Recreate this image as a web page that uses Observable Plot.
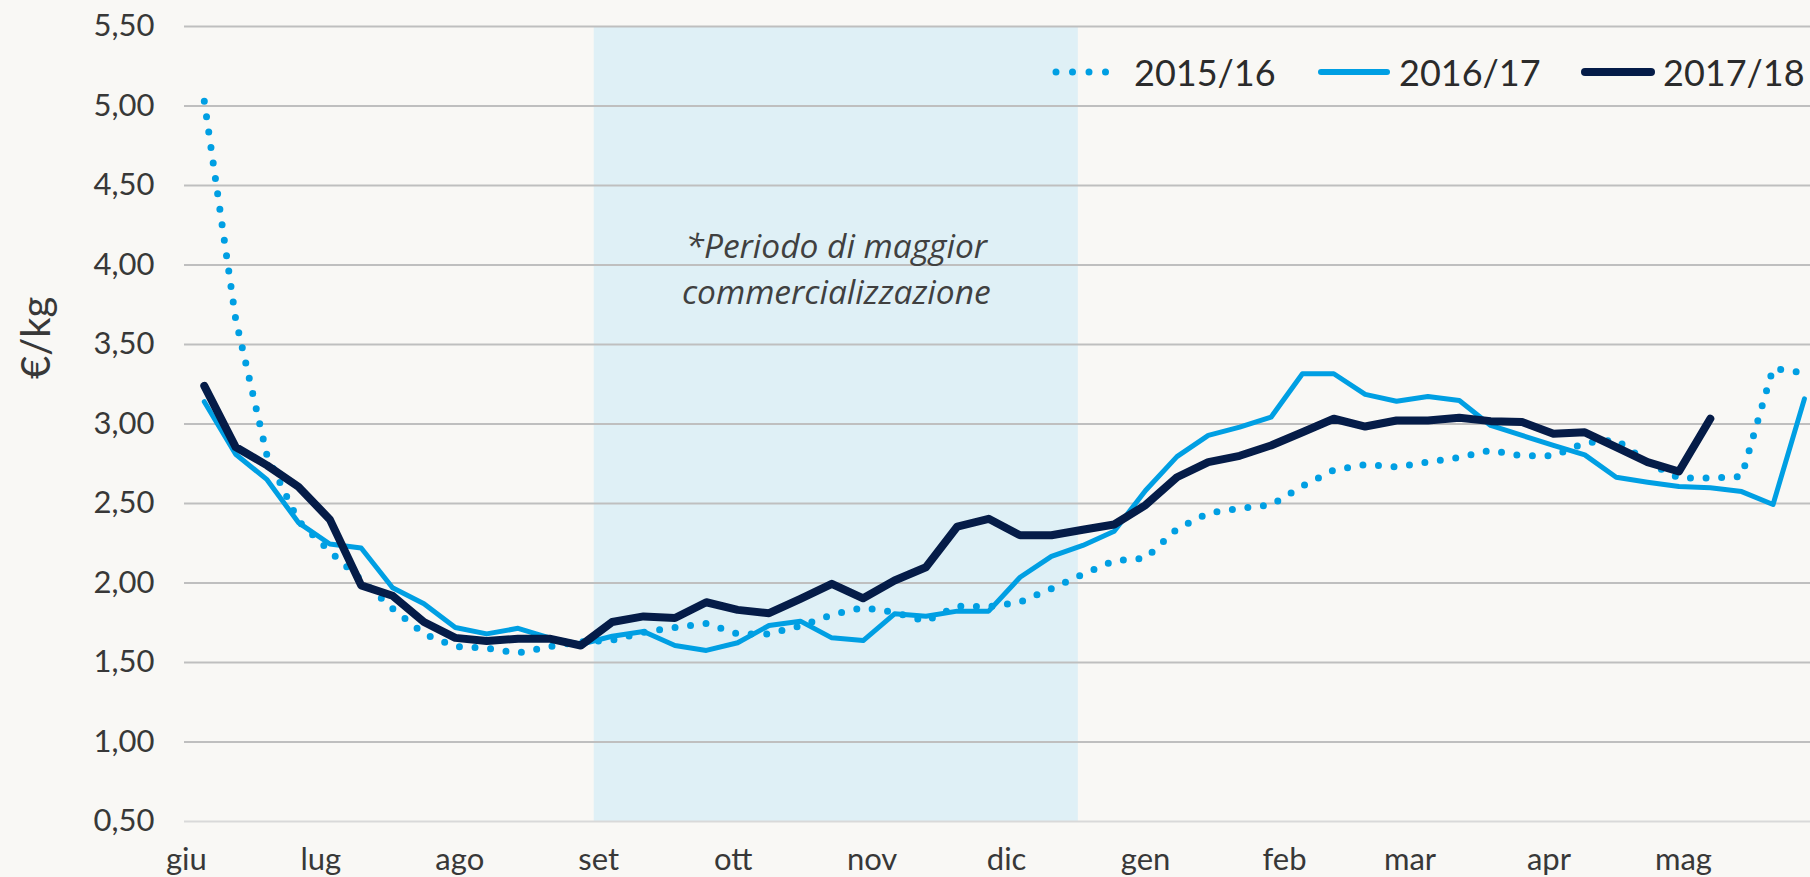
<!DOCTYPE html>
<html>
<head>
<meta charset="utf-8">
<script src="https://cdn.jsdelivr.net/npm/d3@7"></script>
<script src="https://cdn.jsdelivr.net/npm/@observablehq/plot@0.6"></script>
<style>
  html, body { margin: 0; padding: 0; background: #F9F8F5; }
  #wrap { position: relative; width: 1810px; height: 877px; overflow: hidden; background: #F9F8F5; }
  .leg { position: absolute; top: 50px; height: 44px; display: flex; align-items: center;
         font-family: Lato, "DejaVu Sans", sans-serif; font-size: 36px; color: #2b2b2b; white-space: nowrap; }
  .leg svg { margin-right: 8px; }
</style>
</head>
<body>
<div id="wrap"></div>
<script>
// ---- data -------------------------------------------------------------
const weeks = [
  "2017-06-05","2017-06-12","2017-06-19","2017-06-26","2017-07-03","2017-07-10","2017-07-17","2017-07-24","2017-07-31",
  "2017-08-07","2017-08-14","2017-08-21","2017-08-28","2017-09-04","2017-09-11","2017-09-18","2017-09-25",
  "2017-10-02","2017-10-09","2017-10-16","2017-10-23","2017-10-30","2017-11-06","2017-11-13","2017-11-20","2017-11-27",
  "2017-12-04","2017-12-11","2017-12-18","2017-12-25","2018-01-01","2018-01-08","2018-01-15","2018-01-22","2018-01-29",
  "2018-02-05","2018-02-12","2018-02-19","2018-02-26","2018-03-05","2018-03-12","2018-03-19","2018-03-26",
  "2018-04-02","2018-04-09","2018-04-16","2018-04-23","2018-04-30","2018-05-07","2018-05-14","2018-05-21","2018-05-28"
];
const seriesNames = ["2015/16", "2016/17", "2017/18"];
const price2015_16 = [
  5.03, 3.66, 2.80, 2.39, 2.20, 2.02, 1.84, 1.68, 1.60, 1.59, 1.56, 1.60, 1.63,
  1.64, 1.69, 1.72, 1.745, 1.68, 1.68, 1.73, 1.80, 1.845, 1.815, 1.76, 1.855, 1.85,
  1.88, 1.965, 2.055, 2.14, 2.155, 2.34, 2.44, 2.47, 2.49, 2.61, 2.71, 2.745, 2.73,
  2.76, 2.79, 2.835, 2.80, 2.80, 2.88, 2.90, 2.76, 2.66, 2.66, 2.67, 3.35, 3.32
];
const price2016_17 = [
  3.14, 2.81, 2.65, 2.38, 2.245, 2.22, 1.97, 1.87, 1.72, 1.68, 1.715, 1.655, 1.615,
  1.665, 1.695, 1.607, 1.576, 1.624, 1.733, 1.76, 1.655, 1.638, 1.806, 1.791, 1.823, 1.823,
  2.036, 2.167, 2.236, 2.326, 2.582, 2.795, 2.928, 2.98, 3.043, 3.316, 3.316, 3.186, 3.143,
  3.173, 3.148, 2.991, 2.928, 2.865, 2.806, 2.665, 2.634, 2.607, 2.599, 2.575, 2.494, 3.158
];
const price2017_18 = [
  3.24, 2.855, 2.74, 2.605, 2.40, 1.985, 1.92, 1.755, 1.655, 1.635, 1.65, 1.65, 1.607,
  1.755, 1.79, 1.78, 1.879, 1.831, 1.81, 1.90, 1.995, 1.904, 2.016, 2.099, 2.355, 2.404,
  2.30, 2.30, 2.335, 2.368, 2.49, 2.665, 2.76, 2.80, 2.865, 2.948, 3.033, 2.984, 3.022,
  3.022, 3.039, 3.018, 3.012, 2.938, 2.948, 2.854, 2.76, 2.701, 3.033
];
const monthStarts = ["2017-06-01","2017-07-01","2017-08-01","2017-09-01","2017-10-01","2017-11-01",
                     "2017-12-01","2018-01-01","2018-02-01","2018-03-01","2018-04-01","2018-05-01"];
const monthLabels = ["giu","lug","ago","set","ott","nov","dic","gen","feb","mar","apr","mag"];
const yTicks = [0.5, 1, 1.5, 2, 2.5, 3, 3.5, 4, 4.5, 5, 5.5];
const xDomain = ["2017-05-31T14:00Z", "2018-05-29T08:30Z"];
const periodDates = ["2017-08-31T00:00Z", "2017-12-17T00:00Z"];
const annotationLines = ["*Periodo di maggior", "commercializzazione"];
const annotationY = 3.99;
const yLabel = "€/kg";
const colors = ["#009FE3", "#009FE3", "#051C48"];

// ---- build ------------------------------------------------------------
const parse = s => new Date(s.length === 10 ? s + "T00:00Z" : s);
const table = weeks.map((w, i) => ({
  date: parse(w),
  v15: price2015_16[i],
  v16: price2016_17[i],
  v17: price2017_18[i]
}));
const monthDates = monthStarts.map(parse);
const p0 = parse(periodDates[0]), p1 = parse(periodDates[1]);
const pMid = new Date((+p0 + +p1) / 2);

const chart = Plot.plot({
  width: 1810,
  height: 877,
  marginLeft: 184,
  marginRight: 0,
  marginTop: 26,
  marginBottom: 56,
  style: { background: "transparent", fontFamily: "Lato, 'DejaVu Sans', sans-serif", fontSize: "31px", color: "#333" },
  x: { type: "utc", domain: xDomain.map(parse) },
  y: { domain: [yTicks[0], yTicks[yTicks.length - 1]] },
  marks: [
    Plot.rect([0], { x1: () => p0, x2: () => p1, y1: () => yTicks[0], y2: () => yTicks[yTicks.length - 1], fill: "#DFF0F6" }),
    Plot.ruleY(yTicks.slice(1), { stroke: "#BFBFBF", strokeWidth: 1.8 }),
    Plot.ruleY(yTicks.slice(0, 1), { stroke: "#D9D9D9", strokeWidth: 1.8 }),
    Plot.axisY(yTicks, { anchor: "left", tickSize: 0, tickPadding: 30, label: null,
      tickFormat: d => d.toFixed(2).replace(".", ","), fontSize: 31, fill: "#383838" }),
    Plot.axisX(monthDates, { anchor: "bottom", tickSize: 0, tickPadding: 26, label: null,
      tickFormat: d => monthLabels[monthDates.findIndex(m => +m === +d)], fontSize: 31, fill: "#383838" }),
    Plot.text([yLabel], { frameAnchor: "left", rotate: -90, dx: -147, dy: -45, fontSize: 40, fill: "#383838" }),
    Plot.text([annotationLines.join("\n")], { x: () => pMid, y: () => annotationY, fontFamily: "'Open Sans', sans-serif",
      fontStyle: "italic", fontSize: 33.5, lineHeight: 1.35, fill: "#404040" }),
    Plot.line(table, { x: "date", y: "v15", stroke: colors[0], strokeWidth: 7, strokeDasharray: "0,15.6",
      strokeLinecap: "round", strokeLinejoin: "round" }),
    Plot.line(table, { x: "date", y: "v16", stroke: colors[1], strokeWidth: 5, strokeLinejoin: "round" }),
    Plot.line(table, { x: "date", y: "v17", stroke: colors[2], strokeWidth: 8, strokeLinecap: "round", strokeLinejoin: "round" })
  ]
});

const wrap = document.getElementById("wrap");
wrap.appendChild(chart);

// legend (HTML overlay inside the plot area)
const legLeft = [1052, 1317, 1581];
seriesNames.forEach((name, i) => {
  const item = document.createElement("div");
  item.className = "leg";
  item.style.left = legLeft[i] + "px";
  const dash = i === 0 ? 'stroke-dasharray="0,16.5" stroke-width="7"' : (i === 1 ? 'stroke-width="6"' : 'stroke-width="8"');
  item.innerHTML = `<svg width="74" height="16"><line x1="4" x2="70" y1="8" y2="8" stroke="${colors[i]}" ${dash} stroke-linecap="round"/></svg><span>${name}</span>`;
  wrap.appendChild(item);
});
</script>
</body>
</html>
